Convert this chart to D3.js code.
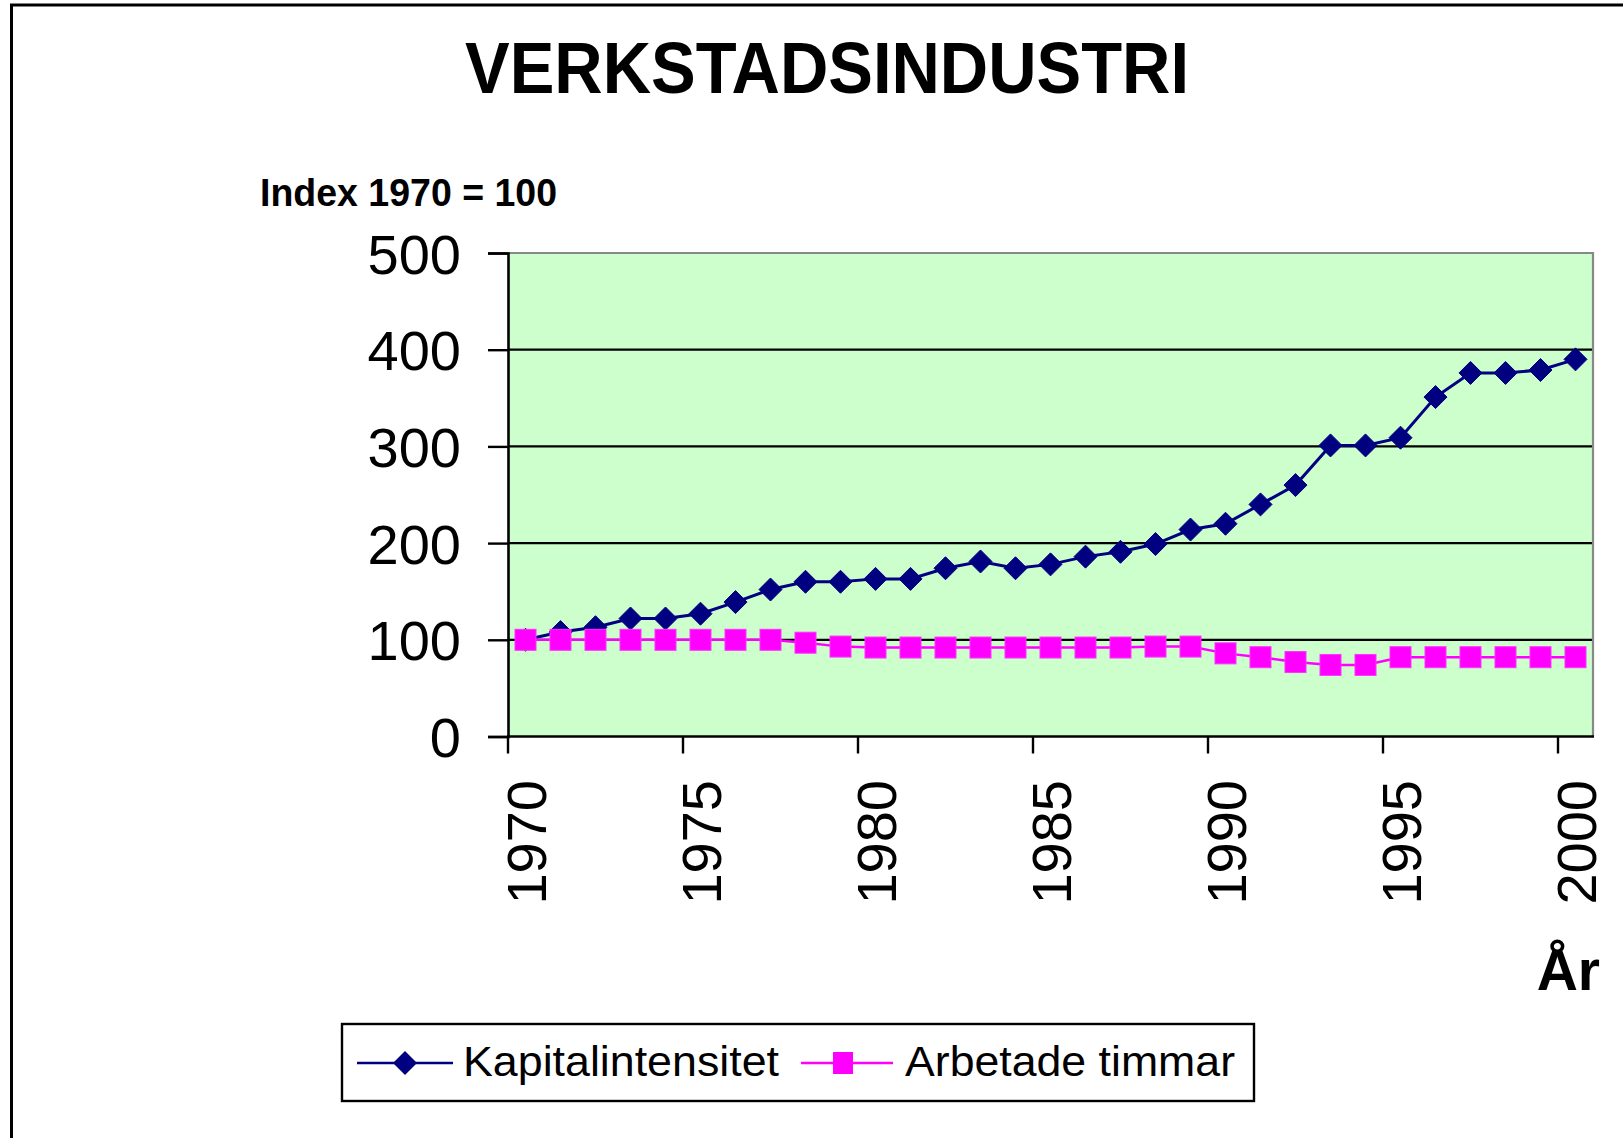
<!DOCTYPE html>
<html><head><meta charset="utf-8">
<script src="https://cdn.jsdelivr.net/npm/d3@7"></script>
<style>html,body{margin:0;padding:0;background:#fff;}svg{display:block;}</style>
</head><body>
<script>
const years = [1970,1971,1972,1973,1974,1975,1976,1977,1978,1979,1980,1981,1982,1983,1984,1985,1986,1987,1988,1989,1990,1991,1992,1993,1994,1995,1996,1997,1998,1999,2000];
const kapitalintensitet = [100,108,113,122,122,127,139,152,160,160,163,163,174,181,174,178,186,191,199,214,220,240,260,301,301,309,351,376,376,379,390];
const arbetadeTimmar = [100,100,100,100,100,100,100,100,97,93,92,92,92,92,92,92,92,92,93,93,86,82,77,74,74,82,82,82,82,82,82];
const yTicks = [0,100,200,300,400,500];
const xLabelYears = [1970,1975,1980,1985,1990,1995,2000];
const seriesNames = ["Kapitalintensitet","Arbetade timmar"];

const W = 1623, H = 1138;
const FONT = "'Liberation Sans', Arial, Helvetica, sans-serif";
const svg = d3.select("body").append("svg").attr("width", W).attr("height", H);

// outer chart border (extends beyond canvas at right/bottom)
svg.append("rect").attr("x", 11.5).attr("y", 5).attr("width", W + 50).attr("height", H + 50)
  .attr("fill", "#fff").attr("stroke", "#000").attr("stroke-width", 3);

const plot = {left: 508, right: 1593, top: 253, bottom: 736.5};
const x = d3.scaleBand().domain(years).range([plot.left, plot.right]).padding(0);
const y = d3.scaleLinear().domain([0, 500]).range([plot.bottom, plot.top]);

// plot background
svg.append("rect").attr("x", plot.left).attr("y", plot.top)
  .attr("width", plot.right - plot.left).attr("height", plot.bottom - plot.top)
  .attr("fill", "#CCFFCC");

// gridlines
svg.append("g").selectAll("line").data(yTicks.filter(v => v > 0 && v < 500)).join("line")
  .attr("x1", plot.left).attr("x2", plot.right)
  .attr("y1", d => y(d)).attr("y2", d => y(d))
  .attr("stroke", "#000").attr("stroke-width", 2.2);

// plot frame top/right (gray)
svg.append("path")
  .attr("d", `M${plot.left},${plot.top}H${plot.right}V${plot.bottom}`)
  .attr("fill", "none").attr("stroke", "#888").attr("stroke-width", 2.2);

// Y axis
const yAxis = d3.axisLeft(y).tickValues(yTicks).tickSize(20).tickPadding(27).tickFormat(d3.format("d"));
const gy = svg.append("g").attr("transform", `translate(${plot.left},0)`).call(yAxis);
gy.select(".domain").attr("stroke", "#000").attr("stroke-width", 2.6);
gy.selectAll(".tick line").attr("stroke", "#000").attr("stroke-width", 2.4);
gy.selectAll(".tick text").attr("font-family", FONT).attr("font-size", 56).attr("fill", "#000")
  .attr("dy", "0.36em");

// X axis: tick marks at category boundaries every 5 years
const gx = svg.append("g");
gx.append("line").attr("x1", plot.left - 1).attr("x2", plot.right + 1)
  .attr("y1", plot.bottom).attr("y2", plot.bottom).attr("stroke", "#000").attr("stroke-width", 2.6);
gx.selectAll("line.tk").data(xLabelYears).join("line").attr("class", "tk")
  .attr("x1", d => x(d)).attr("x2", d => x(d))
  .attr("y1", plot.bottom).attr("y2", plot.bottom + 17)
  .attr("stroke", "#000").attr("stroke-width", 2.4);
gx.selectAll("text").data(xLabelYears).join("text")
  .attr("transform", d => `translate(${x(d) + x.bandwidth() / 2},${780}) rotate(-90)`)
  .attr("text-anchor", "end").attr("dy", "0.36em")
  .attr("font-family", FONT).attr("font-size", 56).attr("fill", "#000")
  .text(d => d);

// series lines
const line = d3.line().x((d, i) => x(years[i]) + x.bandwidth() / 2).y(d => y(d));
svg.append("path").datum(kapitalintensitet).attr("d", line)
  .attr("fill", "none").attr("stroke", "#000080").attr("stroke-width", 3);
const diamond = s => `M0,${-s}L${s},0L0,${s}L${-s},0Z`;
svg.append("g").selectAll("path").data(kapitalintensitet).join("path")
  .attr("transform", (d, i) => `translate(${x(years[i]) + x.bandwidth() / 2},${y(d)})`)
  .attr("d", diamond(11.5)).attr("fill", "#000080").attr("stroke", "#000080").attr("stroke-width", 1);

svg.append("path").datum(arbetadeTimmar).attr("d", line)
  .attr("fill", "none").attr("stroke", "#FF00FF").attr("stroke-width", 2.4);
svg.append("g").selectAll("rect").data(arbetadeTimmar).join("rect")
  .attr("x", (d, i) => x(years[i]) + x.bandwidth() / 2 - 10.5)
  .attr("y", d => y(d) - 10.5)
  .attr("width", 21).attr("height", 21)
  .attr("fill", "#FF00FF").attr("stroke", "#FF33FF").attr("stroke-width", 1);

// title
svg.append("text").attr("x", 827).attr("y", 93).attr("text-anchor", "middle")
  .attr("font-family", FONT).attr("font-weight", "bold").attr("font-size", 72)
  .attr("textLength", 724).attr("lengthAdjust", "spacingAndGlyphs")
  .text("VERKSTADSINDUSTRI");

// y axis title
svg.append("text").attr("x", 260).attr("y", 206)
  .attr("font-family", FONT).attr("font-weight", "bold").attr("font-size", 38.5)
  .attr("textLength", 297).attr("lengthAdjust", "spacingAndGlyphs")
  .text("Index 1970 = 100");

// x axis title
svg.append("text").attr("x", 1600).attr("y", 990).attr("text-anchor", "end")
  .attr("font-family", FONT).attr("font-weight", "bold").attr("font-size", 57)
  .text("År");

// legend
const lg = svg.append("g");
lg.append("rect").attr("x", 342).attr("y", 1024).attr("width", 912).attr("height", 77)
  .attr("fill", "#fff").attr("stroke", "#000").attr("stroke-width", 2.4);
const ly = 1063;
lg.append("line").attr("x1", 357).attr("x2", 453).attr("y1", ly).attr("y2", ly)
  .attr("stroke", "#000080").attr("stroke-width", 2.6);
lg.append("path").attr("transform", `translate(405,${ly})`).attr("d", diamond(12))
  .attr("fill", "#000080");
lg.append("text").attr("x", 463).attr("y", 1076).attr("font-family", FONT).attr("font-size", 43)
  .attr("textLength", 316).attr("lengthAdjust", "spacingAndGlyphs")
  .text(seriesNames[0]);
lg.append("line").attr("x1", 801).attr("x2", 893).attr("y1", ly).attr("y2", ly)
  .attr("stroke", "#FF00FF").attr("stroke-width", 2.4);
lg.append("rect").attr("x", 843 - 10).attr("y", ly - 11).attr("width", 20).attr("height", 22)
  .attr("fill", "#FF00FF");
lg.append("text").attr("x", 905).attr("y", 1076).attr("font-family", FONT).attr("font-size", 43)
  .attr("textLength", 330).attr("lengthAdjust", "spacingAndGlyphs")
  .text(seriesNames[1]);
</script>
</body></html>
